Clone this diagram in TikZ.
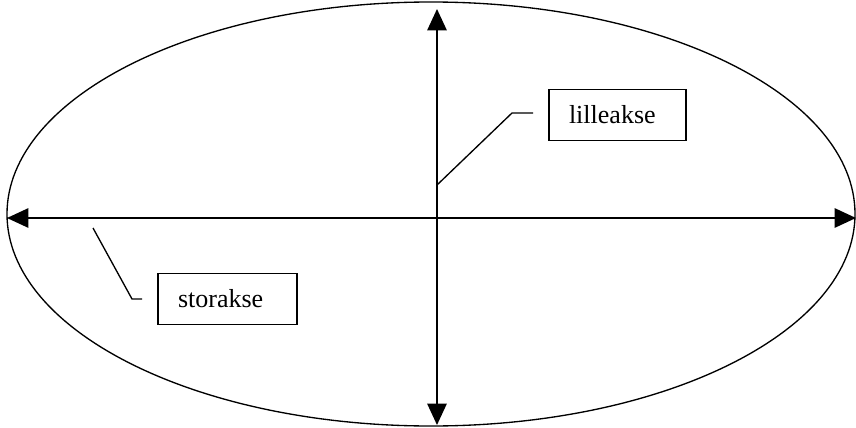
\documentclass[tikz,border=0pt]{standalone}
\usepackage{fontspec}
\setmainfont{Liberation Serif}
\usetikzlibrary{arrows.meta}
\begin{document}
\begin{tikzpicture}[x=0.75pt,y=-0.75pt,
  axisline/.style={line width=1.3pt,{Triangle[length=16pt,width=14.5pt]}-{Triangle[length=16pt,width=14.5pt]}},
  labelbox/.style={draw,line width=1pt,inner xsep=15pt,align=left,font=\fontsize{19.5}{22}\selectfont,minimum height=38pt},
  leader/.style={line width=1pt}]
\useasboundingbox (0,0) rectangle (856,428);
\draw[line width=1pt] (431,214) ellipse [x radius=424, y radius=212];
\coordinate (top) at (437,9);
\coordinate (bot) at (437,425);
\coordinate (lft) at (7,218);
\coordinate (rgt) at (856,218);
\draw[axisline] (top) -- (bot);
\draw[axisline] (lft) -- (rgt);
\node[labelbox,text width=72.75pt] (lille) at (617.5,115) {lilleakse};
\node[labelbox,text width=74.25pt] (stor) at (227.5,299) {storakse};
\coordinate (la) at (437,185);
\coordinate (lb) at (512,113);
\coordinate (lc) at (533,113);
\coordinate (sa) at (93,228);
\coordinate (sb) at (132,299);
\coordinate (sc) at (142,299);
\draw[leader] (la) -- (lb) -- (lc);
\draw[leader] (sa) -- (sb) -- (sc);
\end{tikzpicture}
\end{document}
